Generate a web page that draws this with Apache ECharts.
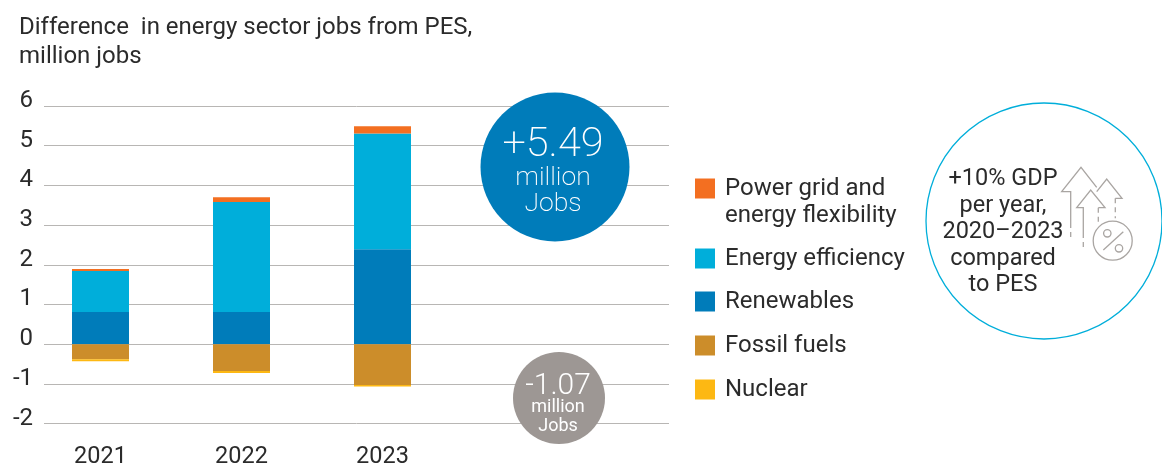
<!DOCTYPE html>
<html><head><meta charset="utf-8">
<style>html,body{margin:0;padding:0;background:#fff}#c{width:1162px;height:464px}</style>
<script src="https://cdn.jsdelivr.net/npm/echarts@6/dist/echarts.min.js"></script>
</head><body><div id="c"></div>
<script>
const years = ['2021', '2022', '2023'];
const renewables = [0.81, 0.81, 2.39];
const efficiency = [1.03, 2.77, 2.92];
const grid_flex = [0.05, 0.12, 0.18];
const fossil = [-0.38, -0.68, -1.03];
const nuclear = [-0.05, -0.05, -0.04];
const names = {
  power: 'Power grid and\nenergy flexibility',
  eff: 'Energy efficiency',
  ren: 'Renewables',
  fos: 'Fossil fuels',
  nuc: 'Nuclear'
};
const colors = {power:'#f36f21', eff:'#00aeda', ren:'#007cba', fos:'#cc8d2a', nuc:'#fdb813'};
const F = 'Roboto, sans-serif', INK = '#2b2b2b', ICON = '#a9a5a2';

const mk = (name, color, vals) => ({
  name, type:'bar', stack:'a', barWidth:57, itemStyle:{color}, data: vals, xAxisIndex:0, yAxisIndex:0
});
const line = (points, dashed) => ({
  type:'polyline', shape:{points}, z:20,
  style:{stroke:ICON, lineWidth:1.3, fill:null, lineDash: dashed ? [5,4] : null}
});
const ring = (cx, cy, r) => ({
  type:'circle', shape:{cx, cy, r}, z:20, style:{stroke:ICON, lineWidth:1.3, fill:null}
});
const txt = (x, y, text, size, fill, weight, extra) => ({
  type:'text', x, y, z:30,
  style:Object.assign({text, font:`${weight||400} ${size}px ${F}`, fill, align:'center', verticalAlign:'middle'}, extra||{})
});
const leg = (name, top, formatter) => ({
  left:695, top, orient:'vertical', selectedMode:false,
  itemWidth:20, itemHeight:20, icon:'rect', padding:0,
  data:[name], formatter: formatter || ((n) => n),
  textStyle:{color:INK, fontSize:24, fontFamily:F, lineHeight:27, padding:[0,0,0,5]}
});

const chart = echarts.init(document.getElementById('c'), null, {renderer:'canvas'});
chart.setOption({
  animation:false,
  backgroundColor:'#fff',
  textStyle:{fontFamily:F},
  grid:[
    {left:30, top:106, width:423, height:317.5, outerBoundsMode:'none'},
    {left:44, top:106, width:625, height:317.5, outerBoundsMode:'none'}
  ],
  xAxis:[
    {type:'category', gridIndex:0, data:years,
     axisLine:{show:false}, axisTick:{show:false}, splitLine:{show:false},
     axisLabel:{color:INK, fontSize:23.5, fontFamily:F, margin:22}},
    {type:'category', gridIndex:1, data:years, show:false}
  ],
  yAxis:[
    {type:'value', gridIndex:0, min:-2, max:6, interval:1, show:false, splitLine:{show:false}},
    {type:'value', gridIndex:1, min:-2, max:6, interval:1,
     axisLine:{show:false}, axisTick:{show:false},
     splitLine:{lineStyle:{color:'#b8b6b4', width:1}},
     axisLabel:{color:INK, fontSize:24, fontFamily:F, margin:11, verticalAlign:'bottom', lineHeight:10}}
  ],
  legend:[
    leg(names.power, 148, (n) => '\n' + n),
    leg(names.eff, 245),
    leg(names.ren, 288),
    leg(names.fos, 332),
    leg(names.nuc, 376)
  ],
  series:[
    mk(names.ren, colors.ren, renewables),
    mk(names.eff, colors.eff, efficiency),
    mk(names.power, colors.power, grid_flex),
    mk(names.fos, colors.fos, fossil),
    mk(names.nuc, colors.nuc, nuclear)
  ],
  graphic:{elements:[
    {type:'text', x:19, y:13, z:30, style:{text:'Difference  in energy sector jobs from PES,\nmillion jobs', font:`400 24px ${F}`, lineHeight:29, fill:INK}},
    {type:'circle', shape:{cx:555, cy:167, r:74.5}, z:10, style:{fill:'#007cba'}},
    txt(553, 146, '+5.49', 41.5, '#fff', 200),
    txt(553, 178, 'million', 26.5, '#fff', 200),
    txt(553, 204, 'Jobs', 26.5, '#fff', 200),
    {type:'circle', shape:{cx:559, cy:398, r:46}, z:10, style:{fill:'#9d9794'}},
    txt(558, 386, '-1.07', 30, '#fff', 300),
    txt(558, 407, 'million', 18, '#fff', 400),
    txt(558, 426, 'Jobs', 18, '#fff', 400),
    {type:'circle', shape:{cx:1044, cy:221, r:118}, z:10, style:{fill:null, stroke:'#00aeda', lineWidth:1.3}},
    txt(1003, 232.5, '+10% GDP\nper year,\n2020\u20132023\ncompared\nto PES', 23.5, INK, 400, {lineHeight:26.5}),
    line([[1096.7,187.3],[1081,167.3],[1061.7,191.7],[1070.7,191.7],[1070.7,223]]),
    line([[1070.7,223],[1070.7,238]], true),
    line([[1083.3,233],[1083.3,207.7],[1076.7,207.7],[1090.7,190],[1105,207.7],[1098.3,207.7]]),
    line([[1083.3,233],[1083.3,247]], true),
    line([[1098.3,207.7],[1098.3,221.7]], true),
    line([[1096.7,191.7],[1106.7,179],[1122,198.3],[1115.3,198.3]]),
    line([[1115.3,198.3],[1115.3,218.3]], true),
    ring(1112.7,240.7,19.5),
    line([[1103.3,250],[1123.3,231.7]]),
    ring(1107.3,233.3,3.7),
    ring(1119,248.3,3.7)
  ]}
});
</script></body></html>
